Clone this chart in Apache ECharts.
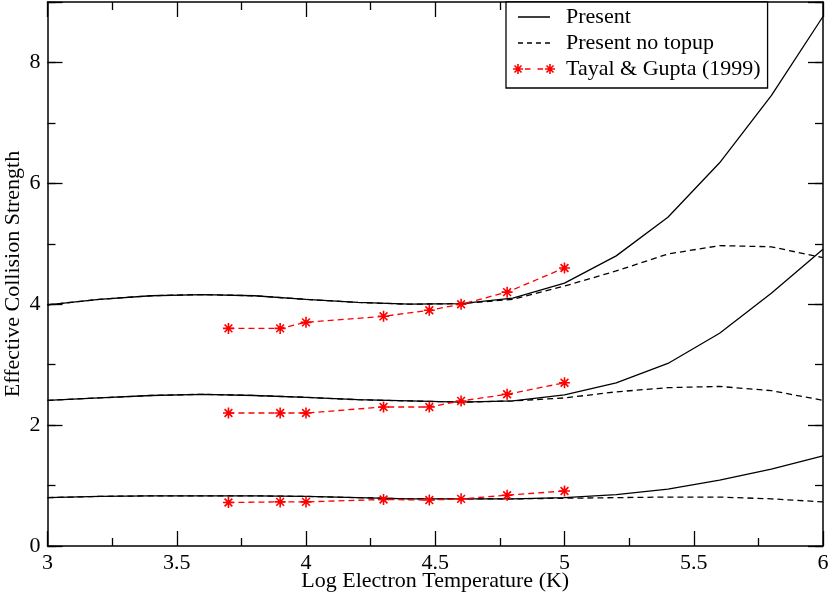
<!DOCTYPE html>
<html>
<head>
<meta charset="utf-8">
<script src="https://cdn.jsdelivr.net/npm/echarts@6/dist/echarts.min.js"></script>
<style>html,body{margin:0;padding:0;background:#fff}#c{width:830px;height:599px}</style>
</head>
<body>
<div id="c"></div>
<script>
// Log Electron Temperature grid for the present calculations
var logT = [3.0, 3.2, 3.4, 3.6, 3.8, 4.0, 4.2, 4.4, 4.6, 4.8, 5.0, 5.2, 5.4, 5.6, 5.8, 6.0];
// Present (with top-up)
var presentUpper = [3.99, 4.08, 4.14, 4.16, 4.14, 4.08, 4.03, 4.00, 4.01, 4.10, 4.35, 4.80, 5.44, 6.34, 7.45, 8.76];
var presentMiddle = [2.41, 2.45, 2.49, 2.51, 2.49, 2.46, 2.42, 2.40, 2.38, 2.40, 2.50, 2.70, 3.02, 3.52, 4.18, 4.91];
var presentLower = [0.80, 0.82, 0.83, 0.83, 0.83, 0.82, 0.80, 0.78, 0.78, 0.78, 0.80, 0.85, 0.94, 1.09, 1.27, 1.49];
// Present no topup
var noTopupUpper = [3.99, 4.08, 4.14, 4.16, 4.14, 4.08, 4.03, 4.00, 4.01, 4.08, 4.30, 4.55, 4.83, 4.97, 4.95, 4.77];
var noTopupMiddle = [2.41, 2.45, 2.49, 2.51, 2.49, 2.46, 2.42, 2.40, 2.38, 2.40, 2.45, 2.55, 2.62, 2.64, 2.57, 2.41];
var noTopupLower = [0.80, 0.82, 0.83, 0.83, 0.83, 0.82, 0.80, 0.78, 0.78, 0.78, 0.79, 0.80, 0.81, 0.81, 0.78, 0.73];
// Tayal & Gupta (1999)
var tayalLogT = [3.7, 3.9, 4.0, 4.3, 4.477, 4.6, 4.778, 5.0];
var tayalUpper = [3.60, 3.60, 3.70, 3.80, 3.90, 4.00, 4.20, 4.60];
var tayalMiddle = [2.20, 2.20, 2.20, 2.30, 2.30, 2.40, 2.51, 2.70];
var tayalLower = [0.72, 0.73, 0.73, 0.77, 0.76, 0.78, 0.84, 0.91];

var xTickLabels = ['3', '3.5', '4', '4.5', '5', '5.5', '6'];
var yTickLabels = ['0', '2', '4', '6', '8'];

var NAME_P = 'Present', NAME_N = 'Present no topup', NAME_T = 'Tayal & Gupta (1999)';
var FONT = 'Liberation Serif';
var FS = 22;

function pairs(xs, ys) { return xs.map(function (x, i) { return [x, ys[i]]; }); }

var asterisk = 'path://M0,-10L0,10M-10,0L10,0M-7.07,-7.07L7.07,7.07M-7.07,7.07L7.07,-7.07';

// ---- legend icon paths (filled shapes in a 42x14 box) ----
function rect(x0, x1, yc, h) {
  return 'M' + x0 + ',' + (yc - h / 2) + 'L' + x1 + ',' + (yc - h / 2) + 'L' + x1 + ',' + (yc + h / 2) + 'L' + x0 + ',' + (yc + h / 2) + 'Z';
}
function spoke(cx, cy, r, ang, w) {
  var c = Math.cos(ang), s = Math.sin(ang), nx = -s * w / 2, ny = c * w / 2;
  var ax = cx - c * r, ay = cy - s * r, bx = cx + c * r, by = cy + s * r;
  return 'M' + (ax + nx).toFixed(2) + ',' + (ay + ny).toFixed(2) + 'L' + (bx + nx).toFixed(2) + ',' + (by + ny).toFixed(2) +
    'L' + (bx - nx).toFixed(2) + ',' + (by - ny).toFixed(2) + 'L' + (ax - nx).toFixed(2) + ',' + (ay - ny).toFixed(2) + 'Z';
}
function star(cx, cy) {
  var p = '';
  for (var k = 0; k < 4; k++) p += spoke(cx, cy, 5, k * Math.PI / 4, 1.6);
  return p;
}
var anchors = 'M0,0L0.01,0L0.01,0.01ZM42,14L41.99,14L41.99,13.99Z';
var iconSolid = 'path://' + anchors + rect(5, 37, 7, 1.4);
var iconDashed = 'path://' + anchors + rect(5, 10, 7, 1.3) + rect(14, 19, 7, 1.3) + rect(23, 28, 7, 1.3) + rect(32, 37, 7, 1.3);
var iconTayal = 'path://' + anchors + star(5, 7) + rect(12, 17.5, 7, 1.3) + rect(24.5, 30, 7, 1.3) + star(37, 7);

function solid(ys) {
  return { name: NAME_P, type: 'line', data: pairs(logT, ys), symbol: 'none', showSymbol: false,
    lineStyle: { color: '#000', width: 1.3 }, itemStyle: { color: '#000' }, z: 3, animation: false };
}
function dashed(ys) {
  return { name: NAME_N, type: 'line', data: pairs(logT, ys), symbol: 'none', showSymbol: false,
    lineStyle: { color: '#000', width: 1.3, type: [6, 4] }, itemStyle: { color: '#000' }, z: 2, animation: false };
}
function tayal(ys) {
  return { name: NAME_T, type: 'line', data: pairs(tayalLogT, ys), symbol: asterisk, symbolSize: 11,
    lineStyle: { color: '#ff0000', width: 1.3, type: [6, 4] },
    itemStyle: { color: '#ff0000', borderColor: '#ff0000', borderWidth: 1.6 }, z: 4, animation: false };
}

var axisLine = { show: true, onZero: false, lineStyle: { color: '#000', width: 1.5 } };
var tickStyle = { color: '#000', width: 1.3 };

function xAx(pos, showLabel) {
  return {
    type: 'value', position: pos, min: 3, max: 6, interval: 0.5,
    axisLine: axisLine,
    axisTick: { show: true, inside: true, length: 15, lineStyle: tickStyle },
    minorTick: { show: true, splitNumber: 2, length: 8, lineStyle: tickStyle },
    splitLine: { show: false }, minorSplitLine: { show: false },
    axisLabel: { show: showLabel, margin: 6, fontFamily: FONT, fontSize: FS, color: '#000',
      formatter: function (v) { var i = Math.round((v - 3) / 0.5); return xTickLabels[i] || ''; } },
    name: showLabel ? 'Log Electron Temperature (K)' : '',
    nameLocation: 'middle', nameGap: 24.5, nameMoveOverlap: false,
    nameTextStyle: { fontFamily: FONT, fontSize: FS, color: '#000' }
  };
}
function yMajor(pos, showLabel) {
  return {
    type: 'value', position: pos, min: 0, max: 9, interval: 2,
    axisLine: axisLine,
    axisTick: { show: true, inside: true, length: 15, lineStyle: tickStyle },
    splitLine: { show: false },
    axisLabel: { show: showLabel, margin: 7, fontFamily: FONT, fontSize: FS, color: '#000',
      formatter: function (v) { return (v % 2 === 0) ? (yTickLabels[v / 2] || '') : ''; } },
    name: showLabel ? 'Effective Collision Strength' : '',
    nameLocation: 'middle', nameGap: 23, nameMoveOverlap: false,
    nameTextStyle: { fontFamily: FONT, fontSize: FS, color: '#000' }
  };
}
function yMinor(pos) {
  return {
    type: 'value', position: pos, min: 0, max: 9, interval: 1,
    axisLine: { show: false },
    axisTick: { show: true, inside: true, length: 8, lineStyle: tickStyle },
    splitLine: { show: false }, axisLabel: { show: false }
  };
}

var chart = echarts.init(document.getElementById('c'), null, { renderer: 'canvas' });
chart.setOption({
  animation: false,
  backgroundColor: '#fff',
  grid: { left: 47.5, right: 7, top: 2, bottom: 53, containLabel: false, outerBoundsMode: 'none' },
  legend: {
    show: true, orient: 'vertical', left: 506, top: 2,
    data: [
      { name: NAME_P, icon: iconSolid, itemStyle: { color: '#000', borderWidth: 0 } },
      { name: NAME_N, icon: iconDashed, itemStyle: { color: '#000', borderWidth: 0 } },
      { name: NAME_T, icon: iconTayal, itemStyle: { color: '#ff0000', borderWidth: 0 } }
    ],
    itemWidth: 42, itemHeight: 14, itemGap: 4,
    padding: [4, 7, 8, 7],
    backgroundColor: '#fff', borderColor: '#000', borderWidth: 1.3, borderRadius: 0,
    textStyle: { fontFamily: FONT, fontSize: FS, color: '#000', padding: [0, 0, 0, 6] }
  },
  xAxis: [xAx('bottom', true), xAx('top', false)],
  yAxis: [yMajor('left', true), yMinor('left'), yMajor('right', false), yMinor('right')],
  series: [
    solid(presentUpper), solid(presentMiddle), solid(presentLower),
    dashed(noTopupUpper), dashed(noTopupMiddle), dashed(noTopupLower),
    tayal(tayalUpper), tayal(tayalMiddle), tayal(tayalLower)
  ]
});
</script>
</body>
</html>
